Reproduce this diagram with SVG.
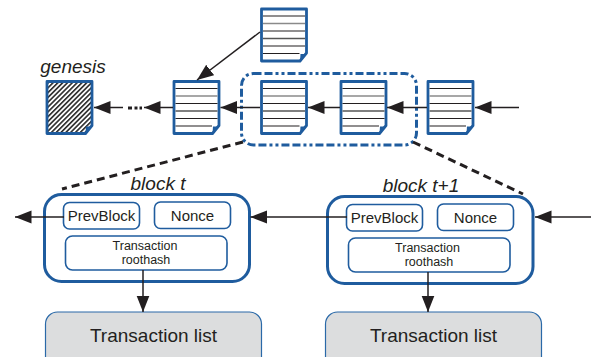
<svg xmlns="http://www.w3.org/2000/svg" width="596" height="357" viewBox="0 0 596 357">
<style>
text{font-family:"Liberation Sans",Arial,sans-serif;fill:#231f20;text-anchor:middle}
.it{font-style:italic;font-size:19px}
.doc{fill:#fff;stroke:#1f5c9e;stroke-width:2.8;stroke-linejoin:round}
.fold{fill:#1f5c9e}
.d{stroke:#231f20;stroke-width:1.2}
.g{stroke:#8a8a8a;stroke-width:1.6}
.g2{stroke:#555;stroke-width:1.3}
.blk{fill:#fff;stroke:#1f5c9e;stroke-width:3}
.in{fill:#fff;stroke:#1f5c9e;stroke-width:1.6}
.tl{fill:#dcddde;stroke:#2a69a8;stroke-width:1.2}
.c{stroke:#231f20;stroke-width:1.5;fill:none}
.ds{stroke:#231f20;stroke-width:3;stroke-dasharray:8 5;fill:none}
.m{font-size:15px}.s{font-size:12.5px}.l{font-size:19px}
</style>
<defs>
<marker id="a" markerUnits="userSpaceOnUse" markerWidth="18" markerHeight="14" refX="16.500" refY="6.500" orient="auto"><path d="M0 0L16.500 6.500L0 13Z" fill="#231f20"/></marker>
<pattern id="h" width="3.4" height="3.4" patternUnits="userSpaceOnUse" patternTransform="rotate(-45)"><rect width="3.4" height="3.4" fill="#fff"/><rect width="3.4" height="1.6" fill="#2a2a2a"/></pattern>
<g id="paper">
<path class="doc" d="M0 0.500H45V44.500L38.500 52.500H0Z"/>
<path class="d" d="M1.500 7.500H43.500M1.500 22.500H43.500M1.500 37.500H43.500M1.500 45H38"/>
<path class="g" d="M1.500 15H43.500"/>
<path class="g2" d="M1.500 30H43.500"/>
<path class="fold" d="M39 45.500H45L38.500 53Z"/>
</g>
</defs>
<g id="genesis">
<text class="it" x="73" y="73">genesis</text>
<path class="doc" style="fill:url(#h)" d="M47 81.500H92V125.500L85.500 133.500H47Z"/>
<path class="fold" d="M86 126.500H92L85.500 134Z"/>
</g>
<g id="pending"><use href="#paper" x="261.500" y="8.500"/></g>
<g id="chain1"><use href="#paper" x="174" y="81"/></g>
<g id="chain2"><use href="#paper" x="261.500" y="81"/></g>
<g id="chain3"><use href="#paper" x="341" y="81"/></g>
<g id="chain4"><use href="#paper" x="428" y="81"/></g>
<g id="selection"><rect x="241.500" y="73.500" width="175" height="71.500" rx="12" fill="none" stroke="#1f5c9e" stroke-width="3" stroke-dasharray="8 3 8 3 3 3 3 3"/></g>
<g id="block-t">
<text class="it" x="158" y="190">block t</text>
<rect class="blk" x="44.500" y="194.500" width="205" height="87" rx="17"/>
<rect class="in" x="63.500" y="202.500" width="76" height="26.500" rx="6"/>
<text class="m" x="101.500" y="221">PrevBlock</text>
<rect class="in" x="154.500" y="202" width="76" height="26.500" rx="6"/>
<text class="m" x="192.500" y="221">Nonce</text>
<rect class="in" x="65.500" y="236" width="161.500" height="34" rx="7"/>
<text class="s" x="145" y="250">Transaction</text>
<text class="s" x="146" y="264">roothash</text>
</g>
<g id="block-t1">
<text class="it" x="421" y="192">block t+1</text>
<rect class="blk" x="327.500" y="196.500" width="205.500" height="87" rx="17"/>
<rect class="in" x="346.500" y="204.500" width="76" height="26.500" rx="6"/>
<text class="m" x="384.500" y="223">PrevBlock</text>
<rect class="in" x="437.500" y="204" width="76" height="26.500" rx="6"/>
<text class="m" x="475.500" y="223">Nonce</text>
<rect class="in" x="348.500" y="238" width="161.500" height="34" rx="7"/>
<text class="s" x="427.500" y="252">Transaction</text>
<text class="s" x="429" y="266">roothash</text>
</g>
<g id="list-t">
<rect class="tl" x="45.500" y="312" width="216" height="60" rx="12"/>
<text class="l" x="153.500" y="341.500">Transaction list</text>
</g>
<g id="list-t1">
<rect class="tl" x="325.500" y="312" width="216" height="60" rx="12"/>
<text class="l" x="433.500" y="341.500">Transaction list</text>
</g>
<g id="connectors">
<path class="c" d="M260 32L197 80" marker-end="url(#a)"/>
<path class="c" d="M123 107.500H94" marker-end="url(#a)"/>
<path d="M128 108h4M134.500 108h3M139.500 108h2.500" stroke="#231f20" stroke-width="3" fill="none"/>
<path class="c" d="M173 107.500H144" marker-end="url(#a)"/>
<path class="c" d="M260 107.500H220.500" marker-end="url(#a)"/>
<path class="c" d="M340 107.500H308" marker-end="url(#a)"/>
<path class="c" d="M427 107.500H387" marker-end="url(#a)"/>
<path class="c" d="M519 107.500H475" marker-end="url(#a)"/>
<path class="ds" d="M243 142L62 189"/>
<path class="ds" d="M413 142L523 194"/>
<path class="c" d="M64 217H15" marker-end="url(#a)"/>
<path class="c" d="M347 217H250.500" marker-end="url(#a)"/>
<path class="c" d="M591 217H535" marker-end="url(#a)"/>
<path class="c" d="M143 270V312" marker-end="url(#a)"/>
<path class="c" d="M428 272V312" marker-end="url(#a)"/>
</g>
</svg>
